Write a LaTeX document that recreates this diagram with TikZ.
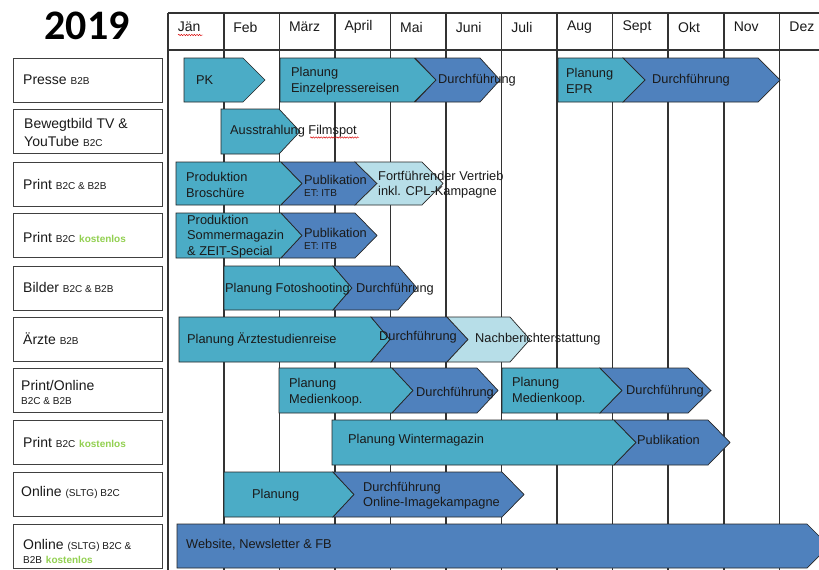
\documentclass[tikz,border=0pt]{standalone}
\usepackage{fontspec}
\setmainfont{Liberation Sans}
\newfontfamily\titlefont{Carlito}
\usetikzlibrary{decorations.pathmorphing}
\definecolor{teal1}{HTML}{4BACC6}
\definecolor{blue1}{HTML}{4F81BD}
\definecolor{light1}{HTML}{B7DEE8}
\definecolor{kgreen}{HTML}{92D050}
\definecolor{txt}{HTML}{1A1A1A}
\definecolor{gridc}{HTML}{333333}
\newcommand\sm[1]{{\fontsize{10}{12}\selectfont #1}}
\newcommand\kost{\textcolor{kgreen}{\bfseries\fontsize{10}{12}\selectfont kostenlos}}
\newcommand\chv[7]{\filldraw[chevbox, fill=#1] (#2,#6) -- (#4,#6) -- (#5,{(#6+#7)/2}) -- (#4,#7) -- (#2,#7) -- (#3,{(#6+#7)/2}) -- cycle;}
\begin{document}
\begin{tikzpicture}[x=1pt,y=-1pt,
  gridline/.style={draw=gridc, line width=1.1pt},
  chevbox/.style={draw=black!85, line width=0.7pt, line join=miter},
  lbox/.style={draw=black!75, line width=0.9pt, fill=white},
  ltext/.style={anchor=west, inner sep=0pt, align=left, text=txt, font=\fontsize{14}{18}\selectfont},
  btext/.style={anchor=west, inner sep=0pt, align=left, text=txt, font=\fontsize{12.8}{15.5}\selectfont},
  mtext/.style={anchor=west, inner sep=0pt, text=txt, font=\fontsize{14}{16}\selectfont},
  spell/.style={draw=red!85!black, line width=0.45pt, decorate, decoration={snake, amplitude=0.7pt, segment length=2.6pt}}]
\useasboundingbox (0,0) rectangle (819,570);
\fill[white] (0,0) rectangle (819,570);
\begin{scope}
\clip (0,0) rectangle (819,570);
% grid
\foreach \x in {224,279.5,335,390.5,446,501.5,557,612.5,668,724,779.5}
  \draw[gridline] (\x,13) -- (\x,570);
\draw[gridline, line width=1.7pt] (168,13) -- (168,570);
\draw[gridline] (168,13) -- (819,13);
\draw[gridline] (168,50) -- (819,50);
% months
\foreach \m [count=\i from 0, evaluate=\i as \xx using 177.6+55.6*\i] in {Jän,Feb,März,April,Mai,Juni,Juli,Aug,Sept,Okt,Nov,Dez}
  \node[mtext] (m\i) at (\xx,27) {\m};
\coordinate (s1a) at (178,35); \coordinate (s1b) at (203,35);
\draw[spell] (s1a) -- (s1b);
% chevrons
\chv{teal1}{184}{184}{243}{265}{58}{102}
\chv{teal1}{280}{280}{414}{436}{58}{102}
\chv{blue1}{415}{436}{480}{500}{58}{102}
\chv{teal1}{558}{558}{623}{645}{58}{102}
\chv{blue1}{623}{645}{758}{780}{58}{102}
\chv{teal1}{221}{221}{279}{300}{109}{154}
\chv{teal1}{176}{176}{281}{302}{162}{205}
\chv{blue1}{281}{302}{355}{377}{162}{205}
\chv{light1}{355}{377}{422}{443}{162}{205}
\chv{teal1}{176}{176}{281}{302}{213}{258}
\chv{blue1}{281}{302}{355}{377}{213}{258}
\chv{teal1}{224}{224}{333}{352}{266}{310}
\chv{blue1}{333}{352}{398}{417}{266}{310}
\chv{teal1}{179}{179}{371}{390}{317}{362}
\chv{blue1}{371}{390}{447}{468}{317}{362}
\chv{light1}{447}{468}{510}{530}{317}{362}
\chv{teal1}{279}{279}{392}{413}{368}{413}
\chv{blue1}{392}{413}{477}{498}{368}{413}
\chv{teal1}{502}{502}{600}{622}{368}{413}
\chv{blue1}{600}{622}{688}{711}{368}{413}
\chv{teal1}{332}{332}{614}{636}{420}{465}
\chv{blue1}{614}{636}{708}{730}{420}{465}
\chv{teal1}{224}{224}{333}{354}{472}{517}
\chv{blue1}{333}{354}{502}{524}{472}{517}
\chv{blue1}{177}{177}{807}{829}{524}{568}
\end{scope}
% bar texts
\node[btext] (t1a) at (196,80) {PK};
\node[btext] (t1b) at (291,81) {Planung\\Einzelpressereisen};
\node[btext] (t1c) at (438,80) {Durchführung};
\node[btext] (t1d) at (566,81) {Planung\\EPR};
\node[btext] (t1e) at (652,80) {Durchführung};
\node[btext] (t2a) at (230,131) {Ausstrahlung Filmspot};
\coordinate (s2a) at (310,137.5); \coordinate (s2b) at (359,137.5);
\draw[spell] (s2a) -- (s2b);
\node[btext] (t3a) at (186,185) {Produktion\\Broschüre};
\node[btext] (t3b) at (304,186) {Publikation\\[-3pt]\sm{ET: ITB}};
\node[btext] (t3c) at (378,184.5) {Fortführender Vertrieb\\inkl. CPL-Kampagne};
\node[btext] (t4a) at (187,236.5) {Produktion\\Sommermagazin\\\& ZEIT-Special};
\node[btext] (t4b) at (304,239) {Publikation\\[-3pt]\sm{ET: ITB}};
\node[btext] (t5a) at (225,289) {Planung Fotoshooting};
\node[btext] (t5b) at (356,289) {Durchführung};
\node[btext] (t6a) at (187,339) {Planung Ärztestudienreise};
\node[btext] (t6b) at (379,337) {Durchführung};
\node[btext] (t6c) at (475,339) {Nachberichterstattung};
\node[btext] (t7a) at (289,392) {Planung\\Medienkoop.};
\node[btext] (t7b) at (416,393) {Durchführung};
\node[btext] (t7c) at (512,391) {Planung\\Medienkoop.};
\node[btext] (t7d) at (626,391) {Durchführung};
\node[btext] (t8a) at (348,440) {Planung Wintermagazin};
\node[btext] (t8b) at (637,440) {Publikation};
\node[btext] (t9a) at (252,495) {Planung};
\node[btext] (t9b) at (363,495.5) {Durchführung\\Online-Imagekampagne};
\node[btext] (t10a) at (186,545) {Website, Newsletter \& FB};
% title
\node[font=\titlefont\bfseries\fontsize{42}{42}\selectfont, text=black, inner sep=0pt] (title) at (87,26) {2019};
% label boxes
\foreach \t [count=\i] in {58,109,162,213,266,317,368,420,472,524}
  \draw[lbox] (13,\t) rectangle (162,\t+44.5);
\node[ltext] (l1) at (23,80) {Presse \sm{B2B}};
\node[ltext] (l2) at (24,132) {Bewegtbild TV \&\\YouTube \sm{B2C}};
\node[ltext] (l3) at (23,184) {Print \sm{B2C \& B2B}};
\node[ltext] (l4) at (23,237) {Print \sm{B2C} \kost};
\node[ltext] (l5) at (23,287) {Bilder \sm{B2C \& B2B}};
\node[ltext] (l6) at (23,339) {Ärzte \sm{B2B}};
\node[ltext] (l7) at (21,392) {Print/Online\\[-4pt]\sm{B2C \& B2B}};
\node[ltext] (l8) at (23,442) {Print \sm{B2C} \kost};
\node[ltext] (l9) at (21,492) {Online \sm{(SLTG) B2C}};
\node[ltext] (l10) at (23,551) {Online \sm{(SLTG) B2C \&}\\[-4pt]\sm{B2B} \kost};
\end{tikzpicture}
\end{document}
